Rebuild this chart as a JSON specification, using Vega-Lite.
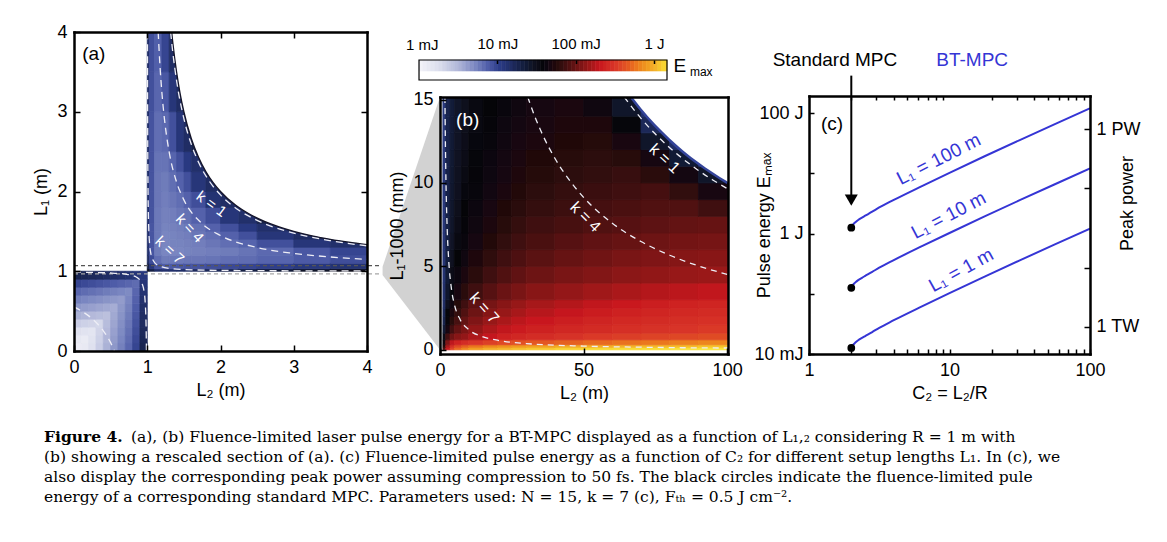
{
"$schema": "https://vega.github.io/schema/vega-lite/v6.json",
"background": "white",
"padding": {"left": 32, "top": 23, "right": 0, "bottom": 0},
"config": {
 "font": "Liberation Sans",
 "view": {"stroke": null},
 "axis": {"grid": false, "labelFontSize": 18, "titleFontSize": 18, "titleFontWeight": "normal", "labelColor": "black", "titleColor": "black", "tickColor": "black", "domainColor": "black", "domainWidth": 2.5, "domainCap": "square", "tickWidth": 1.5, "tickSize": -6, "labelPadding": 13, "zindex": 1, "labelFlush": false, "labelOverlap": false}
},
"datasets": {
"a": [
{"x":0,"x2":0.1,"y":0,"y2":0.1,"v":0.05},{"x":0.1,"x2":0.2,"y":0,"y2":0.1,"v":0.10},{"x":0.2,"x2":0.3,"y":0,"y2":0.1,"v":0.19},{"x":0.3,"x2":0.4,"y":0,"y2":0.1,"v":0.34},{"x":0.4,"x2":0.5,"y":0,"y2":0.1,"v":0.50},{"x":0.5,"x2":0.6,"y":0,"y2":0.1,"v":0.62},{"x":0.6,"x2":0.7,"y":0,"y2":0.1,"v":0.72},{"x":0.7,"x2":0.8,"y":0,"y2":0.1,"v":0.82},{"x":0.8,"x2":0.9,"y":0,"y2":0.1,"v":0.96},{"x":0.9,"x2":1,"y":0,"y2":0.1,"v":1.23},
{"x":0,"x2":0.1,"y":0.1,"y2":0.2,"v":0.10},{"x":0.1,"x2":0.2,"y":0.1,"y2":0.2,"v":0.08},{"x":0.2,"x2":0.3,"y":0.1,"y2":0.2,"v":0.17},{"x":0.3,"x2":0.4,"y":0.1,"y2":0.2,"v":0.32},{"x":0.4,"x2":0.5,"y":0.1,"y2":0.2,"v":0.48},{"x":0.5,"x2":0.6,"y":0.1,"y2":0.2,"v":0.60},{"x":0.6,"x2":0.7,"y":0.1,"y2":0.2,"v":0.70},{"x":0.7,"x2":0.8,"y":0.1,"y2":0.2,"v":0.80},{"x":0.8,"x2":0.9,"y":0.1,"y2":0.2,"v":0.94},{"x":0.9,"x2":1,"y":0.1,"y2":0.2,"v":1.21},
{"x":0,"x2":0.1,"y":0.2,"y2":0.3,"v":0.19},{"x":0.1,"x2":0.2,"y":0.2,"y2":0.3,"v":0.17},{"x":0.2,"x2":0.3,"y":0.2,"y2":0.3,"v":0.15},{"x":0.3,"x2":0.4,"y":0.2,"y2":0.3,"v":0.30},{"x":0.4,"x2":0.5,"y":0.2,"y2":0.3,"v":0.46},{"x":0.5,"x2":0.6,"y":0.2,"y2":0.3,"v":0.58},{"x":0.6,"x2":0.7,"y":0.2,"y2":0.3,"v":0.68},{"x":0.7,"x2":0.8,"y":0.2,"y2":0.3,"v":0.78},{"x":0.8,"x2":0.9,"y":0.2,"y2":0.3,"v":0.92},{"x":0.9,"x2":1,"y":0.2,"y2":0.3,"v":1.19},
{"x":0,"x2":0.1,"y":0.3,"y2":0.4,"v":0.34},{"x":0.1,"x2":0.2,"y":0.3,"y2":0.4,"v":0.32},{"x":0.2,"x2":0.3,"y":0.3,"y2":0.4,"v":0.30},{"x":0.3,"x2":0.4,"y":0.3,"y2":0.4,"v":0.28},{"x":0.4,"x2":0.5,"y":0.3,"y2":0.4,"v":0.44},{"x":0.5,"x2":0.6,"y":0.3,"y2":0.4,"v":0.56},{"x":0.6,"x2":0.7,"y":0.3,"y2":0.4,"v":0.66},{"x":0.7,"x2":0.8,"y":0.3,"y2":0.4,"v":0.76},{"x":0.8,"x2":0.9,"y":0.3,"y2":0.4,"v":0.90},{"x":0.9,"x2":1,"y":0.3,"y2":0.4,"v":1.17},
{"x":0,"x2":0.1,"y":0.4,"y2":0.5,"v":0.50},{"x":0.1,"x2":0.2,"y":0.4,"y2":0.5,"v":0.48},{"x":0.2,"x2":0.3,"y":0.4,"y2":0.5,"v":0.46},{"x":0.3,"x2":0.4,"y":0.4,"y2":0.5,"v":0.44},{"x":0.4,"x2":0.5,"y":0.4,"y2":0.5,"v":0.42},{"x":0.5,"x2":0.6,"y":0.4,"y2":0.5,"v":0.54},{"x":0.6,"x2":0.7,"y":0.4,"y2":0.5,"v":0.64},{"x":0.7,"x2":0.8,"y":0.4,"y2":0.5,"v":0.74},{"x":0.8,"x2":0.9,"y":0.4,"y2":0.5,"v":0.88},{"x":0.9,"x2":1,"y":0.4,"y2":0.5,"v":1.15},
{"x":0,"x2":0.1,"y":0.5,"y2":0.6,"v":0.62},{"x":0.1,"x2":0.2,"y":0.5,"y2":0.6,"v":0.60},{"x":0.2,"x2":0.3,"y":0.5,"y2":0.6,"v":0.58},{"x":0.3,"x2":0.4,"y":0.5,"y2":0.6,"v":0.56},{"x":0.4,"x2":0.5,"y":0.5,"y2":0.6,"v":0.54},{"x":0.5,"x2":0.6,"y":0.5,"y2":0.6,"v":0.52},{"x":0.6,"x2":0.7,"y":0.5,"y2":0.6,"v":0.62},{"x":0.7,"x2":0.8,"y":0.5,"y2":0.6,"v":0.72},{"x":0.8,"x2":0.9,"y":0.5,"y2":0.6,"v":0.86},{"x":0.9,"x2":1,"y":0.5,"y2":0.6,"v":1.13},
{"x":0,"x2":0.1,"y":0.6,"y2":0.7,"v":0.72},{"x":0.1,"x2":0.2,"y":0.6,"y2":0.7,"v":0.70},{"x":0.2,"x2":0.3,"y":0.6,"y2":0.7,"v":0.68},{"x":0.3,"x2":0.4,"y":0.6,"y2":0.7,"v":0.66},{"x":0.4,"x2":0.5,"y":0.6,"y2":0.7,"v":0.64},{"x":0.5,"x2":0.6,"y":0.6,"y2":0.7,"v":0.62},{"x":0.6,"x2":0.7,"y":0.6,"y2":0.7,"v":0.60},{"x":0.7,"x2":0.8,"y":0.6,"y2":0.7,"v":0.70},{"x":0.8,"x2":0.9,"y":0.6,"y2":0.7,"v":0.84},{"x":0.9,"x2":1,"y":0.6,"y2":0.7,"v":1.11},
{"x":0,"x2":0.1,"y":0.7,"y2":0.8,"v":0.82},{"x":0.1,"x2":0.2,"y":0.7,"y2":0.8,"v":0.80},{"x":0.2,"x2":0.3,"y":0.7,"y2":0.8,"v":0.78},{"x":0.3,"x2":0.4,"y":0.7,"y2":0.8,"v":0.76},{"x":0.4,"x2":0.5,"y":0.7,"y2":0.8,"v":0.74},{"x":0.5,"x2":0.6,"y":0.7,"y2":0.8,"v":0.72},{"x":0.6,"x2":0.7,"y":0.7,"y2":0.8,"v":0.70},{"x":0.7,"x2":0.8,"y":0.7,"y2":0.8,"v":0.68},{"x":0.8,"x2":0.9,"y":0.7,"y2":0.8,"v":0.82},{"x":0.9,"x2":1,"y":0.7,"y2":0.8,"v":1.09},
{"x":0,"x2":0.1,"y":0.8,"y2":0.9,"v":0.96},{"x":0.1,"x2":0.2,"y":0.8,"y2":0.9,"v":0.94},{"x":0.2,"x2":0.3,"y":0.8,"y2":0.9,"v":0.92},{"x":0.3,"x2":0.4,"y":0.8,"y2":0.9,"v":0.90},{"x":0.4,"x2":0.5,"y":0.8,"y2":0.9,"v":0.88},{"x":0.5,"x2":0.6,"y":0.8,"y2":0.9,"v":0.86},{"x":0.6,"x2":0.7,"y":0.8,"y2":0.9,"v":0.84},{"x":0.7,"x2":0.8,"y":0.8,"y2":0.9,"v":0.82},{"x":0.8,"x2":0.9,"y":0.8,"y2":0.9,"v":0.80},{"x":0.9,"x2":1,"y":0.8,"y2":0.9,"v":1.07},
{"x":0,"x2":0.1,"y":0.9,"y2":1,"v":1.23},{"x":0.1,"x2":0.2,"y":0.9,"y2":1,"v":1.21},{"x":0.2,"x2":0.3,"y":0.9,"y2":1,"v":1.19},{"x":0.3,"x2":0.4,"y":0.9,"y2":1,"v":1.17},{"x":0.4,"x2":0.5,"y":0.9,"y2":1,"v":1.15},{"x":0.5,"x2":0.6,"y":0.9,"y2":1,"v":1.13},{"x":0.6,"x2":0.7,"y":0.9,"y2":1,"v":1.11},{"x":0.7,"x2":0.8,"y":0.9,"y2":1,"v":1.09},{"x":0.8,"x2":0.9,"y":0.9,"y2":1,"v":1.07},{"x":0.9,"x2":1,"y":0.9,"y2":1,"v":1.05},
{"x":1,"x2":1.03,"y":1,"y2":1.03,"v":1.45},{"x":1,"x2":1.03,"y":1.03,"y2":1.1,"v":1.27},{"x":1,"x2":1.03,"y":1.1,"y2":1.2,"v":1.16},{"x":1,"x2":1.03,"y":1.2,"y2":1.3,"v":1.12},{"x":1,"x2":1.03,"y":1.3,"y2":1.4,"v":1.12},{"x":1,"x2":1.03,"y":1.4,"y2":1.5,"v":1.12},{"x":1,"x2":1.03,"y":1.5,"y2":1.6,"v":1.12},{"x":1,"x2":1.03,"y":1.6,"y2":1.8,"v":1.12},{"x":1,"x2":1.03,"y":1.8,"y2":2,"v":1.12},{"x":1,"x2":1.03,"y":2,"y2":2.25,"v":1.12},{"x":1,"x2":1.03,"y":2.25,"y2":2.5,"v":1.12},{"x":1,"x2":1.03,"y":2.5,"y2":3,"v":1.12},{"x":1,"x2":1.03,"y":3,"y2":3.5,"v":1.12},{"x":1,"x2":1.03,"y":3.5,"y2":4,"v":1.13},
{"x":1.03,"x2":1.1,"y":1,"y2":1.03,"v":1.28},{"x":1.03,"x2":1.1,"y":1.03,"y2":1.1,"v":1.05},{"x":1.03,"x2":1.1,"y":1.1,"y2":1.2,"v":0.93},{"x":1.03,"x2":1.1,"y":1.2,"y2":1.3,"v":0.89},{"x":1.03,"x2":1.1,"y":1.3,"y2":1.4,"v":0.89},{"x":1.03,"x2":1.1,"y":1.4,"y2":1.5,"v":0.89},{"x":1.03,"x2":1.1,"y":1.5,"y2":1.6,"v":0.89},{"x":1.03,"x2":1.1,"y":1.6,"y2":1.8,"v":0.90},{"x":1.03,"x2":1.1,"y":1.8,"y2":2,"v":0.90},{"x":1.03,"x2":1.1,"y":2,"y2":2.25,"v":0.90},{"x":1.03,"x2":1.1,"y":2.25,"y2":2.5,"v":0.90},{"x":1.03,"x2":1.1,"y":2.5,"y2":3,"v":0.90},{"x":1.03,"x2":1.1,"y":3,"y2":3.5,"v":0.91},{"x":1.03,"x2":1.1,"y":3.5,"y2":4,"v":0.92},
{"x":1.1,"x2":1.2,"y":1,"y2":1.03,"v":1.14},{"x":1.1,"x2":1.2,"y":1.03,"y2":1.1,"v":0.90},{"x":1.1,"x2":1.2,"y":1.1,"y2":1.2,"v":0.79},{"x":1.1,"x2":1.2,"y":1.2,"y2":1.3,"v":0.74},{"x":1.1,"x2":1.2,"y":1.3,"y2":1.4,"v":0.75},{"x":1.1,"x2":1.2,"y":1.4,"y2":1.5,"v":0.75},{"x":1.1,"x2":1.2,"y":1.5,"y2":1.6,"v":0.75},{"x":1.1,"x2":1.2,"y":1.6,"y2":1.8,"v":0.75},{"x":1.1,"x2":1.2,"y":1.8,"y2":2,"v":0.76},{"x":1.1,"x2":1.2,"y":2,"y2":2.25,"v":0.76},{"x":1.1,"x2":1.2,"y":2.25,"y2":2.5,"v":0.77},{"x":1.1,"x2":1.2,"y":2.5,"y2":3,"v":0.79},{"x":1.1,"x2":1.2,"y":3,"y2":3.5,"v":0.82},{"x":1.1,"x2":1.2,"y":3.5,"y2":4,"v":0.85},
{"x":1.2,"x2":1.3,"y":1,"y2":1.03,"v":1.11},{"x":1.2,"x2":1.3,"y":1.03,"y2":1.1,"v":0.86},{"x":1.2,"x2":1.3,"y":1.1,"y2":1.2,"v":0.74},{"x":1.2,"x2":1.3,"y":1.2,"y2":1.3,"v":0.70},{"x":1.2,"x2":1.3,"y":1.3,"y2":1.4,"v":0.70},{"x":1.2,"x2":1.3,"y":1.4,"y2":1.5,"v":0.70},{"x":1.2,"x2":1.3,"y":1.5,"y2":1.6,"v":0.71},{"x":1.2,"x2":1.3,"y":1.6,"y2":1.8,"v":0.72},{"x":1.2,"x2":1.3,"y":1.8,"y2":2,"v":0.73},{"x":1.2,"x2":1.3,"y":2,"y2":2.25,"v":0.74},{"x":1.2,"x2":1.3,"y":2.25,"y2":2.5,"v":0.77},{"x":1.2,"x2":1.3,"y":2.5,"y2":3,"v":0.81},{"x":1.2,"x2":1.3,"y":3,"y2":3.5,"v":0.88},{"x":1.2,"x2":1.3,"y":3.5,"y2":4,"v":0.96},
{"x":1.3,"x2":1.4,"y":1,"y2":1.03,"v":1.12},{"x":1.3,"x2":1.4,"y":1.03,"y2":1.1,"v":0.87},{"x":1.3,"x2":1.4,"y":1.1,"y2":1.2,"v":0.75},{"x":1.3,"x2":1.4,"y":1.2,"y2":1.3,"v":0.70},{"x":1.3,"x2":1.4,"y":1.3,"y2":1.4,"v":0.71},{"x":1.3,"x2":1.4,"y":1.4,"y2":1.5,"v":0.71},{"x":1.3,"x2":1.4,"y":1.5,"y2":1.6,"v":0.72},{"x":1.3,"x2":1.4,"y":1.6,"y2":1.8,"v":0.73},{"x":1.3,"x2":1.4,"y":1.8,"y2":2,"v":0.76},{"x":1.3,"x2":1.4,"y":2,"y2":2.25,"v":0.79},{"x":1.3,"x2":1.4,"y":2.25,"y2":2.5,"v":0.83},{"x":1.3,"x2":1.4,"y":2.5,"y2":3,"v":0.91},{"x":1.3,"x2":1.4,"y":3,"y2":3.5,"v":1.06},{"x":1.3,"x2":1.4,"y":3.5,"y2":4,"v":1.15},
{"x":1.4,"x2":1.5,"y":1,"y2":1.03,"v":1.14},{"x":1.4,"x2":1.5,"y":1.03,"y2":1.1,"v":0.88},{"x":1.4,"x2":1.5,"y":1.1,"y2":1.2,"v":0.75},{"x":1.4,"x2":1.5,"y":1.2,"y2":1.3,"v":0.70},{"x":1.4,"x2":1.5,"y":1.3,"y2":1.4,"v":0.71},{"x":1.4,"x2":1.5,"y":1.4,"y2":1.5,"v":0.72},{"x":1.4,"x2":1.5,"y":1.5,"y2":1.6,"v":0.73},{"x":1.4,"x2":1.5,"y":1.6,"y2":1.8,"v":0.76},{"x":1.4,"x2":1.5,"y":1.8,"y2":2,"v":0.79},{"x":1.4,"x2":1.5,"y":2,"y2":2.25,"v":0.84},{"x":1.4,"x2":1.5,"y":2.25,"y2":2.5,"v":0.91},{"x":1.4,"x2":1.5,"y":2.5,"y2":3,"v":1.06},{"x":1.4,"x2":1.5,"y":3,"y2":3.5,"v":1.15},
{"x":1.5,"x2":1.6,"y":1,"y2":1.03,"v":1.15},{"x":1.5,"x2":1.6,"y":1.03,"y2":1.1,"v":0.89},{"x":1.5,"x2":1.6,"y":1.1,"y2":1.2,"v":0.76},{"x":1.5,"x2":1.6,"y":1.2,"y2":1.3,"v":0.71},{"x":1.5,"x2":1.6,"y":1.3,"y2":1.4,"v":0.72},{"x":1.5,"x2":1.6,"y":1.4,"y2":1.5,"v":0.73},{"x":1.5,"x2":1.6,"y":1.5,"y2":1.6,"v":0.75},{"x":1.5,"x2":1.6,"y":1.6,"y2":1.8,"v":0.78},{"x":1.5,"x2":1.6,"y":1.8,"y2":2,"v":0.84},{"x":1.5,"x2":1.6,"y":2,"y2":2.25,"v":0.91},{"x":1.5,"x2":1.6,"y":2.25,"y2":2.5,"v":1.03},{"x":1.5,"x2":1.6,"y":2.5,"y2":3,"v":1.15},
{"x":1.6,"x2":1.8,"y":1,"y2":1.03,"v":1.18},{"x":1.6,"x2":1.8,"y":1.03,"y2":1.1,"v":0.90},{"x":1.6,"x2":1.8,"y":1.1,"y2":1.2,"v":0.76},{"x":1.6,"x2":1.8,"y":1.2,"y2":1.3,"v":0.72},{"x":1.6,"x2":1.8,"y":1.3,"y2":1.4,"v":0.73},{"x":1.6,"x2":1.8,"y":1.4,"y2":1.5,"v":0.76},{"x":1.6,"x2":1.8,"y":1.5,"y2":1.6,"v":0.78},{"x":1.6,"x2":1.8,"y":1.6,"y2":1.8,"v":0.84},{"x":1.6,"x2":1.8,"y":1.8,"y2":2,"v":0.92},{"x":1.6,"x2":1.8,"y":2,"y2":2.25,"v":1.06},{"x":1.6,"x2":1.8,"y":2.25,"y2":2.5,"v":1.12},{"x":1.6,"x2":1.8,"y":2.5,"y2":3,"v":1.25},
{"x":1.8,"x2":2,"y":1,"y2":1.03,"v":1.21},{"x":1.8,"x2":2,"y":1.03,"y2":1.1,"v":0.92},{"x":1.8,"x2":2,"y":1.1,"y2":1.2,"v":0.77},{"x":1.8,"x2":2,"y":1.2,"y2":1.3,"v":0.73},{"x":1.8,"x2":2,"y":1.3,"y2":1.4,"v":0.76},{"x":1.8,"x2":2,"y":1.4,"y2":1.5,"v":0.79},{"x":1.8,"x2":2,"y":1.5,"y2":1.6,"v":0.84},{"x":1.8,"x2":2,"y":1.6,"y2":1.8,"v":0.92},{"x":1.8,"x2":2,"y":1.8,"y2":2,"v":1.09},{"x":1.8,"x2":2,"y":2,"y2":2.25,"v":1.15},
{"x":2,"x2":2.25,"y":1,"y2":1.03,"v":1.24},{"x":2,"x2":2.25,"y":1.03,"y2":1.1,"v":0.94},{"x":2,"x2":2.25,"y":1.1,"y2":1.2,"v":0.79},{"x":2,"x2":2.25,"y":1.2,"y2":1.3,"v":0.74},{"x":2,"x2":2.25,"y":1.3,"y2":1.4,"v":0.79},{"x":2,"x2":2.25,"y":1.4,"y2":1.5,"v":0.84},{"x":2,"x2":2.25,"y":1.5,"y2":1.6,"v":0.91},{"x":2,"x2":2.25,"y":1.6,"y2":1.8,"v":1.06},{"x":2,"x2":2.25,"y":1.8,"y2":2,"v":1.15},
{"x":2.25,"x2":2.5,"y":1,"y2":1.03,"v":1.28},{"x":2.25,"x2":2.5,"y":1.03,"y2":1.1,"v":0.96},{"x":2.25,"x2":2.5,"y":1.1,"y2":1.2,"v":0.80},{"x":2.25,"x2":2.5,"y":1.2,"y2":1.3,"v":0.77},{"x":2.25,"x2":2.5,"y":1.3,"y2":1.4,"v":0.83},{"x":2.25,"x2":2.5,"y":1.4,"y2":1.5,"v":0.91},{"x":2.25,"x2":2.5,"y":1.5,"y2":1.6,"v":1.03},{"x":2.25,"x2":2.5,"y":1.6,"y2":1.8,"v":1.12},
{"x":2.5,"x2":3,"y":1,"y2":1.03,"v":1.34},{"x":2.5,"x2":3,"y":1.03,"y2":1.1,"v":0.99},{"x":2.5,"x2":3,"y":1.1,"y2":1.2,"v":0.83},{"x":2.5,"x2":3,"y":1.2,"y2":1.3,"v":0.81},{"x":2.5,"x2":3,"y":1.3,"y2":1.4,"v":0.91},{"x":2.5,"x2":3,"y":1.4,"y2":1.5,"v":1.06},{"x":2.5,"x2":3,"y":1.5,"y2":1.6,"v":1.12},{"x":2.5,"x2":3,"y":1.6,"y2":1.8,"v":1.25},
{"x":3,"x2":3.5,"y":1,"y2":1.03,"v":1.41},{"x":3,"x2":3.5,"y":1.03,"y2":1.1,"v":1.04},{"x":3,"x2":3.5,"y":1.1,"y2":1.2,"v":0.87},{"x":3,"x2":3.5,"y":1.2,"y2":1.3,"v":0.88},{"x":3,"x2":3.5,"y":1.3,"y2":1.4,"v":1.06},{"x":3,"x2":3.5,"y":1.4,"y2":1.5,"v":1.15},
{"x":3.5,"x2":4,"y":1,"y2":1.03,"v":1.49},{"x":3.5,"x2":4,"y":1.03,"y2":1.1,"v":1.09},{"x":3.5,"x2":4,"y":1.1,"y2":1.2,"v":0.92},{"x":3.5,"x2":4,"y":1.2,"y2":1.3,"v":0.96},{"x":3.5,"x2":4,"y":1.3,"y2":1.4,"v":1.12}
],
"acont": [
{"seg":"k1a","x":1.319,"y":4.0},{"seg":"k1a","x":1.35,"y":3.734},{"seg":"k1a","x":1.4,"y":3.392},{"seg":"k1a","x":1.5,"y":2.914},{"seg":"k1a","x":1.6,"y":2.595},{"seg":"k1a","x":1.7,"y":2.367},{"seg":"k1a","x":1.85,"y":2.126},{"seg":"k1a","x":2,"y":1.957},{"seg":"k1a","x":2.25,"y":1.765},{"seg":"k1a","x":2.5,"y":1.638},{"seg":"k1a","x":3,"y":1.478},{"seg":"k1a","x":3.5,"y":1.383},{"seg":"k1a","x":4,"y":1.319},
{"seg":"k4a","x":1.149,"y":4.0},{"seg":"k4a","x":1.175,"y":3.558},{"seg":"k4a","x":1.2,"y":3.239},{"seg":"k4a","x":1.25,"y":2.791},{"seg":"k4a","x":1.3,"y":2.492},{"seg":"k4a","x":1.4,"y":2.119},{"seg":"k4a","x":1.5,"y":1.895},{"seg":"k4a","x":1.75,"y":1.597},{"seg":"k4a","x":2,"y":1.448},{"seg":"k4a","x":2.5,"y":1.298},{"seg":"k4a","x":3,"y":1.224},{"seg":"k4a","x":3.5,"y":1.179},{"seg":"k4a","x":4,"y":1.149},
{"seg":"k7a","x":1.00364,"y":4.0},{"seg":"k7a","x":1.005,"y":3.184},{"seg":"k7a","x":1.0075,"y":2.456},{"seg":"k7a","x":1.01,"y":2.092},{"seg":"k7a","x":1.015,"y":1.728},{"seg":"k7a","x":1.02,"y":1.546},{"seg":"k7a","x":1.03,"y":1.364},{"seg":"k7a","x":1.05,"y":1.218},{"seg":"k7a","x":1.075,"y":1.146},{"seg":"k7a","x":1.1,"y":1.109},{"seg":"k7a","x":1.15,"y":1.073},{"seg":"k7a","x":1.2,"y":1.055},{"seg":"k7a","x":1.3,"y":1.036},{"seg":"k7a","x":1.5,"y":1.022},{"seg":"k7a","x":2,"y":1.011},{"seg":"k7a","x":3,"y":1.0055},{"seg":"k7a","x":4,"y":1.0036},
{"seg":"k4b","x":0,"y":0.5523},{"seg":"k4b","x":0.1,"y":0.5026},{"seg":"k4b","x":0.2,"y":0.4404},{"seg":"k4b","x":0.3,"y":0.3604},{"seg":"k4b","x":0.4,"y":0.2538},{"seg":"k4b","x":0.45,"y":0.186},{"seg":"k4b","x":0.5,"y":0.1046},{"seg":"k4b","x":0.5523,"y":0},
{"seg":"k7b","x":0,"y":0.9891},{"seg":"k7b","x":0.5,"y":0.9782},{"seg":"k7b","x":0.7,"y":0.9636},{"seg":"k7b","x":0.8,"y":0.9454},{"seg":"k7b","x":0.85,"y":0.9272},{"seg":"k7b","x":0.9,"y":0.8908},{"seg":"k7b","x":0.93,"y":0.844},{"seg":"k7b","x":0.95,"y":0.7816},{"seg":"k7b","x":0.97,"y":0.636},{"seg":"k7b","x":0.98,"y":0.454},{"seg":"k7b","x":0.985,"y":0.272},{"seg":"k7b","x":0.9891,"y":0},
{"seg":"k1b","x":0,"y":0.0432},{"seg":"k1b","x":0.02,"y":0.0237},{"seg":"k1b","x":0.0432,"y":0}
],
"abound": [
{"x":1.3333,"y":4.0},{"x":1.35,"y":3.857},{"x":1.4,"y":3.5},{"x":1.45,"y":3.222},{"x":1.5,"y":3.0},{"x":1.6,"y":2.667},{"x":1.7,"y":2.429},{"x":1.8,"y":2.25},{"x":1.9,"y":2.111},{"x":2,"y":2.0},{"x":2.2,"y":1.833},{"x":2.4,"y":1.714},{"x":2.6,"y":1.625},{"x":2.8,"y":1.556},{"x":3,"y":1.5},{"x":3.25,"y":1.444},{"x":3.5,"y":1.4},{"x":3.75,"y":1.364},{"x":4,"y":1.333}
],
"b": [
{"x":1,"x2":2,"y":0,"y2":0.15,"v":1.90},{"x":2,"x2":3.5,"y":0,"y2":0.15,"v":2.30},{"x":3.5,"x2":5,"y":0,"y2":0.15,"v":2.55},{"x":5,"x2":7.5,"y":0,"y2":0.15,"v":2.70},{"x":7.5,"x2":10,"y":0,"y2":0.15,"v":2.80},{"x":10,"x2":15,"y":0,"y2":0.15,"v":2.90},{"x":15,"x2":20,"y":0,"y2":0.15,"v":2.97},{"x":20,"x2":25,"y":0,"y2":0.15,"v":3.00},{"x":25,"x2":30,"y":0,"y2":0.15,"v":3.03},{"x":30,"x2":40,"y":0,"y2":0.15,"v":3.06},{"x":40,"x2":50,"y":0,"y2":0.15,"v":3.09},{"x":50,"x2":60,"y":0,"y2":0.15,"v":3.11},{"x":60,"x2":70,"y":0,"y2":0.15,"v":3.12},{"x":70,"x2":80,"y":0,"y2":0.15,"v":3.13},{"x":80,"x2":90,"y":0,"y2":0.15,"v":3.14},{"x":90,"x2":100.3,"y":0,"y2":0.15,"v":3.15},
{"x":1,"x2":2,"y":0.15,"y2":0.3,"v":1.75},{"x":2,"x2":3.5,"y":0.15,"y2":0.3,"v":2.20},{"x":3.5,"x2":5,"y":0.15,"y2":0.3,"v":2.45},{"x":5,"x2":7.5,"y":0.15,"y2":0.3,"v":2.58},{"x":7.5,"x2":10,"y":0.15,"y2":0.3,"v":2.67},{"x":10,"x2":15,"y":0.15,"y2":0.3,"v":2.75},{"x":15,"x2":20,"y":0.15,"y2":0.3,"v":2.82},{"x":20,"x2":25,"y":0.15,"y2":0.3,"v":2.86},{"x":25,"x2":30,"y":0.15,"y2":0.3,"v":2.89},{"x":30,"x2":40,"y":0.15,"y2":0.3,"v":2.92},{"x":40,"x2":50,"y":0.15,"y2":0.3,"v":2.96},{"x":50,"x2":60,"y":0.15,"y2":0.3,"v":2.98},{"x":60,"x2":70,"y":0.15,"y2":0.3,"v":3.00},{"x":70,"x2":80,"y":0.15,"y2":0.3,"v":3.02},{"x":80,"x2":90,"y":0.15,"y2":0.3,"v":3.03},{"x":90,"x2":100.3,"y":0.15,"y2":0.3,"v":3.05},
{"x":1,"x2":2,"y":0.3,"y2":0.6,"v":1.62},{"x":2,"x2":3.5,"y":0.3,"y2":0.6,"v":2.05},{"x":3.5,"x2":5,"y":0.3,"y2":0.6,"v":2.25},{"x":5,"x2":7.5,"y":0.3,"y2":0.6,"v":2.35},{"x":7.5,"x2":10,"y":0.3,"y2":0.6,"v":2.42},{"x":10,"x2":15,"y":0.3,"y2":0.6,"v":2.48},{"x":15,"x2":20,"y":0.3,"y2":0.6,"v":2.53},{"x":20,"x2":25,"y":0.3,"y2":0.6,"v":2.57},{"x":25,"x2":30,"y":0.3,"y2":0.6,"v":2.60},{"x":30,"x2":40,"y":0.3,"y2":0.6,"v":2.63},{"x":40,"x2":50,"y":0.3,"y2":0.6,"v":2.67},{"x":50,"x2":60,"y":0.3,"y2":0.6,"v":2.70},{"x":60,"x2":70,"y":0.3,"y2":0.6,"v":2.73},{"x":70,"x2":80,"y":0.3,"y2":0.6,"v":2.75},{"x":80,"x2":90,"y":0.3,"y2":0.6,"v":2.78},{"x":90,"x2":100.3,"y":0.3,"y2":0.6,"v":2.80},
{"x":1,"x2":2,"y":0.6,"y2":1,"v":1.50},{"x":2,"x2":3.5,"y":0.6,"y2":1,"v":1.85},{"x":3.5,"x2":5,"y":0.6,"y2":1,"v":2.00},{"x":5,"x2":7.5,"y":0.6,"y2":1,"v":2.08},{"x":7.5,"x2":10,"y":0.6,"y2":1,"v":2.12},{"x":10,"x2":15,"y":0.6,"y2":1,"v":2.20},{"x":15,"x2":20,"y":0.6,"y2":1,"v":2.27},{"x":20,"x2":25,"y":0.6,"y2":1,"v":2.34},{"x":25,"x2":30,"y":0.6,"y2":1,"v":2.38},{"x":30,"x2":40,"y":0.6,"y2":1,"v":2.42},{"x":40,"x2":50,"y":0.6,"y2":1,"v":2.46},{"x":50,"x2":60,"y":0.6,"y2":1,"v":2.50},{"x":60,"x2":70,"y":0.6,"y2":1,"v":2.52},{"x":70,"x2":80,"y":0.6,"y2":1,"v":2.54},{"x":80,"x2":90,"y":0.6,"y2":1,"v":2.56},{"x":90,"x2":100.3,"y":0.6,"y2":1,"v":2.58},
{"x":1,"x2":2,"y":1,"y2":1.5,"v":1.35},{"x":2,"x2":3.5,"y":1,"y2":1.5,"v":1.65},{"x":3.5,"x2":5,"y":1,"y2":1.5,"v":1.85},{"x":5,"x2":7.5,"y":1,"y2":1.5,"v":1.96},{"x":7.5,"x2":10,"y":1,"y2":1.5,"v":2.04},{"x":10,"x2":15,"y":1,"y2":1.5,"v":2.12},{"x":15,"x2":20,"y":1,"y2":1.5,"v":2.20},{"x":20,"x2":25,"y":1,"y2":1.5,"v":2.26},{"x":25,"x2":30,"y":1,"y2":1.5,"v":2.30},{"x":30,"x2":40,"y":1,"y2":1.5,"v":2.34},{"x":40,"x2":50,"y":1,"y2":1.5,"v":2.38},{"x":50,"x2":60,"y":1,"y2":1.5,"v":2.41},{"x":60,"x2":70,"y":1,"y2":1.5,"v":2.44},{"x":70,"x2":80,"y":1,"y2":1.5,"v":2.46},{"x":80,"x2":90,"y":1,"y2":1.5,"v":2.48},{"x":90,"x2":100.3,"y":1,"y2":1.5,"v":2.50},
{"x":1,"x2":2,"y":1.5,"y2":2,"v":1.25},{"x":2,"x2":3.5,"y":1.5,"y2":2,"v":1.58},{"x":3.5,"x2":5,"y":1.5,"y2":2,"v":1.75},{"x":5,"x2":7.5,"y":1.5,"y2":2,"v":1.87},{"x":7.5,"x2":10,"y":1.5,"y2":2,"v":1.96},{"x":10,"x2":15,"y":1.5,"y2":2,"v":2.05},{"x":15,"x2":20,"y":1.5,"y2":2,"v":2.13},{"x":20,"x2":25,"y":1.5,"y2":2,"v":2.19},{"x":25,"x2":30,"y":1.5,"y2":2,"v":2.24},{"x":30,"x2":40,"y":1.5,"y2":2,"v":2.28},{"x":40,"x2":50,"y":1.5,"y2":2,"v":2.32},{"x":50,"x2":60,"y":1.5,"y2":2,"v":2.36},{"x":60,"x2":70,"y":1.5,"y2":2,"v":2.39},{"x":70,"x2":80,"y":1.5,"y2":2,"v":2.41},{"x":80,"x2":90,"y":1.5,"y2":2,"v":2.43},{"x":90,"x2":100.3,"y":1.5,"y2":2,"v":2.45},
{"x":1,"x2":2,"y":2,"y2":2.5,"v":1.20},{"x":2,"x2":3.5,"y":2,"y2":2.5,"v":1.55},{"x":3.5,"x2":5,"y":2,"y2":2.5,"v":1.68},{"x":5,"x2":7.5,"y":2,"y2":2.5,"v":1.80},{"x":7.5,"x2":10,"y":2,"y2":2.5,"v":1.90},{"x":10,"x2":15,"y":2,"y2":2.5,"v":1.99},{"x":15,"x2":20,"y":2,"y2":2.5,"v":2.07},{"x":20,"x2":25,"y":2,"y2":2.5,"v":2.13},{"x":25,"x2":30,"y":2,"y2":2.5,"v":2.18},{"x":30,"x2":40,"y":2,"y2":2.5,"v":2.23},{"x":40,"x2":50,"y":2,"y2":2.5,"v":2.27},{"x":50,"x2":60,"y":2,"y2":2.5,"v":2.31},{"x":60,"x2":70,"y":2,"y2":2.5,"v":2.34},{"x":70,"x2":80,"y":2,"y2":2.5,"v":2.37},{"x":80,"x2":90,"y":2,"y2":2.5,"v":2.39},{"x":90,"x2":100.3,"y":2,"y2":2.5,"v":2.41},
{"x":1,"x2":2,"y":2.5,"y2":3,"v":1.15},{"x":2,"x2":3.5,"y":2.5,"y2":3,"v":1.45},{"x":3.5,"x2":5,"y":2.5,"y2":3,"v":1.62},{"x":5,"x2":7.5,"y":2.5,"y2":3,"v":1.74},{"x":7.5,"x2":10,"y":2.5,"y2":3,"v":1.84},{"x":10,"x2":15,"y":2.5,"y2":3,"v":1.94},{"x":15,"x2":20,"y":2.5,"y2":3,"v":2.02},{"x":20,"x2":25,"y":2.5,"y2":3,"v":2.08},{"x":25,"x2":30,"y":2.5,"y2":3,"v":2.13},{"x":30,"x2":40,"y":2.5,"y2":3,"v":2.18},{"x":40,"x2":50,"y":2.5,"y2":3,"v":2.22},{"x":50,"x2":60,"y":2.5,"y2":3,"v":2.26},{"x":60,"x2":70,"y":2.5,"y2":3,"v":2.29},{"x":70,"x2":80,"y":2.5,"y2":3,"v":2.32},{"x":80,"x2":90,"y":2.5,"y2":3,"v":2.35},{"x":90,"x2":100.3,"y":2.5,"y2":3,"v":2.37},
{"x":1,"x2":2,"y":3,"y2":4,"v":1.12},{"x":2,"x2":3.5,"y":3,"y2":4,"v":1.38},{"x":3.5,"x2":5,"y":3,"y2":4,"v":1.54},{"x":5,"x2":7.5,"y":3,"y2":4,"v":1.66},{"x":7.5,"x2":10,"y":3,"y2":4,"v":1.76},{"x":10,"x2":15,"y":3,"y2":4,"v":1.84},{"x":15,"x2":20,"y":3,"y2":4,"v":1.92},{"x":20,"x2":25,"y":3,"y2":4,"v":1.98},{"x":25,"x2":30,"y":3,"y2":4,"v":2.03},{"x":30,"x2":40,"y":3,"y2":4,"v":2.08},{"x":40,"x2":50,"y":3,"y2":4,"v":2.12},{"x":50,"x2":60,"y":3,"y2":4,"v":2.16},{"x":60,"x2":70,"y":3,"y2":4,"v":2.19},{"x":70,"x2":80,"y":3,"y2":4,"v":2.22},{"x":80,"x2":90,"y":3,"y2":4,"v":2.24},{"x":90,"x2":100.3,"y":3,"y2":4,"v":2.26},
{"x":1,"x2":2,"y":4,"y2":5,"v":1.10},{"x":2,"x2":3.5,"y":4,"y2":5,"v":1.33},{"x":3.5,"x2":5,"y":4,"y2":5,"v":1.50},{"x":5,"x2":7.5,"y":4,"y2":5,"v":1.60},{"x":7.5,"x2":10,"y":4,"y2":5,"v":1.68},{"x":10,"x2":15,"y":4,"y2":5,"v":1.76},{"x":15,"x2":20,"y":4,"y2":5,"v":1.84},{"x":20,"x2":25,"y":4,"y2":5,"v":1.90},{"x":25,"x2":30,"y":4,"y2":5,"v":1.95},{"x":30,"x2":40,"y":4,"y2":5,"v":1.99},{"x":40,"x2":50,"y":4,"y2":5,"v":2.03},{"x":50,"x2":60,"y":4,"y2":5,"v":2.06},{"x":60,"x2":70,"y":4,"y2":5,"v":2.09},{"x":70,"x2":80,"y":4,"y2":5,"v":2.11},{"x":80,"x2":90,"y":4,"y2":5,"v":2.13},{"x":90,"x2":100.3,"y":4,"y2":5,"v":2.14},
{"x":1,"x2":2,"y":5,"y2":6,"v":1.08},{"x":2,"x2":3.5,"y":5,"y2":6,"v":1.30},{"x":3.5,"x2":5,"y":5,"y2":6,"v":1.45},{"x":5,"x2":7.5,"y":5,"y2":6,"v":1.56},{"x":7.5,"x2":10,"y":5,"y2":6,"v":1.62},{"x":10,"x2":15,"y":5,"y2":6,"v":1.70},{"x":15,"x2":20,"y":5,"y2":6,"v":1.78},{"x":20,"x2":25,"y":5,"y2":6,"v":1.84},{"x":25,"x2":30,"y":5,"y2":6,"v":1.89},{"x":30,"x2":40,"y":5,"y2":6,"v":1.93},{"x":40,"x2":50,"y":5,"y2":6,"v":1.97},{"x":50,"x2":60,"y":5,"y2":6,"v":2.00},{"x":60,"x2":70,"y":5,"y2":6,"v":2.03},{"x":70,"x2":80,"y":5,"y2":6,"v":2.05},{"x":80,"x2":90,"y":5,"y2":6,"v":2.07},{"x":90,"x2":100.3,"y":5,"y2":6,"v":2.08},
{"x":1,"x2":2,"y":6,"y2":7,"v":1.07},{"x":2,"x2":3.5,"y":6,"y2":7,"v":1.28},{"x":3.5,"x2":5,"y":6,"y2":7,"v":1.42},{"x":5,"x2":7.5,"y":6,"y2":7,"v":1.53},{"x":7.5,"x2":10,"y":6,"y2":7,"v":1.59},{"x":10,"x2":15,"y":6,"y2":7,"v":1.65},{"x":15,"x2":20,"y":6,"y2":7,"v":1.73},{"x":20,"x2":25,"y":6,"y2":7,"v":1.79},{"x":25,"x2":30,"y":6,"y2":7,"v":1.84},{"x":30,"x2":40,"y":6,"y2":7,"v":1.88},{"x":40,"x2":50,"y":6,"y2":7,"v":1.92},{"x":50,"x2":60,"y":6,"y2":7,"v":1.95},{"x":60,"x2":70,"y":6,"y2":7,"v":1.97},{"x":70,"x2":80,"y":6,"y2":7,"v":1.99},{"x":80,"x2":90,"y":6,"y2":7,"v":2.01},{"x":90,"x2":100.3,"y":6,"y2":7,"v":2.02},
{"x":1,"x2":2,"y":7,"y2":8,"v":1.06},{"x":2,"x2":3.5,"y":7,"y2":8,"v":1.27},{"x":3.5,"x2":5,"y":7,"y2":8,"v":1.40},{"x":5,"x2":7.5,"y":7,"y2":8,"v":1.50},{"x":7.5,"x2":10,"y":7,"y2":8,"v":1.57},{"x":10,"x2":15,"y":7,"y2":8,"v":1.62},{"x":15,"x2":20,"y":7,"y2":8,"v":1.69},{"x":20,"x2":25,"y":7,"y2":8,"v":1.75},{"x":25,"x2":30,"y":7,"y2":8,"v":1.80},{"x":30,"x2":40,"y":7,"y2":8,"v":1.84},{"x":40,"x2":50,"y":7,"y2":8,"v":1.87},{"x":50,"x2":60,"y":7,"y2":8,"v":1.90},{"x":60,"x2":70,"y":7,"y2":8,"v":1.92},{"x":70,"x2":80,"y":7,"y2":8,"v":1.94},{"x":80,"x2":90,"y":7,"y2":8,"v":1.96},{"x":90,"x2":100.3,"y":7,"y2":8,"v":1.97},
{"x":1,"x2":2,"y":8,"y2":9,"v":1.05},{"x":2,"x2":3.5,"y":8,"y2":9,"v":1.27},{"x":3.5,"x2":5,"y":8,"y2":9,"v":1.39},{"x":5,"x2":7.5,"y":8,"y2":9,"v":1.48},{"x":7.5,"x2":10,"y":8,"y2":9,"v":1.56},{"x":10,"x2":15,"y":8,"y2":9,"v":1.60},{"x":15,"x2":20,"y":8,"y2":9,"v":1.66},{"x":20,"x2":25,"y":8,"y2":9,"v":1.72},{"x":25,"x2":30,"y":8,"y2":9,"v":1.76},{"x":30,"x2":40,"y":8,"y2":9,"v":1.80},{"x":40,"x2":50,"y":8,"y2":9,"v":1.83},{"x":50,"x2":60,"y":8,"y2":9,"v":1.86},{"x":60,"x2":70,"y":8,"y2":9,"v":1.88},{"x":70,"x2":80,"y":8,"y2":9,"v":1.90},{"x":80,"x2":90,"y":8,"y2":9,"v":1.90},{"x":90,"x2":100.3,"y":8,"y2":9,"v":1.84},
{"x":1,"x2":2,"y":9,"y2":10,"v":1.05},{"x":2,"x2":3.5,"y":9,"y2":10,"v":1.26},{"x":3.5,"x2":5,"y":9,"y2":10,"v":1.38},{"x":5,"x2":7.5,"y":9,"y2":10,"v":1.46},{"x":7.5,"x2":10,"y":9,"y2":10,"v":1.54},{"x":10,"x2":15,"y":9,"y2":10,"v":1.58},{"x":15,"x2":20,"y":9,"y2":10,"v":1.63},{"x":20,"x2":25,"y":9,"y2":10,"v":1.68},{"x":25,"x2":30,"y":9,"y2":10,"v":1.73},{"x":30,"x2":40,"y":9,"y2":10,"v":1.77},{"x":40,"x2":50,"y":9,"y2":10,"v":1.80},{"x":50,"x2":60,"y":9,"y2":10,"v":1.82},{"x":60,"x2":70,"y":9,"y2":10,"v":1.84},{"x":70,"x2":80,"y":9,"y2":10,"v":1.86},{"x":80,"x2":90,"y":9,"y2":10,"v":1.79},{"x":90,"x2":100.3,"y":9,"y2":10,"v":1.66},
{"x":1,"x2":2,"y":10,"y2":11,"v":1.05},{"x":2,"x2":3.5,"y":10,"y2":11,"v":1.26},{"x":3.5,"x2":5,"y":10,"y2":11,"v":1.37},{"x":5,"x2":7.5,"y":10,"y2":11,"v":1.45},{"x":7.5,"x2":10,"y":10,"y2":11,"v":1.52},{"x":10,"x2":15,"y":10,"y2":11,"v":1.57},{"x":15,"x2":20,"y":10,"y2":11,"v":1.61},{"x":20,"x2":25,"y":10,"y2":11,"v":1.65},{"x":25,"x2":30,"y":10,"y2":11,"v":1.70},{"x":30,"x2":40,"y":10,"y2":11,"v":1.74},{"x":40,"x2":50,"y":10,"y2":11,"v":1.77},{"x":50,"x2":60,"y":10,"y2":11,"v":1.79},{"x":60,"x2":70,"y":10,"y2":11,"v":1.81},{"x":70,"x2":80,"y":10,"y2":11,"v":1.76},{"x":80,"x2":90,"y":10,"y2":11,"v":1.64},{"x":90,"x2":100.3,"y":10,"y2":11,"v":1.40},
{"x":1,"x2":2,"y":11,"y2":12,"v":1.05},{"x":2,"x2":3.5,"y":11,"y2":12,"v":1.25},{"x":3.5,"x2":5,"y":11,"y2":12,"v":1.36},{"x":5,"x2":7.5,"y":11,"y2":12,"v":1.44},{"x":7.5,"x2":10,"y":11,"y2":12,"v":1.50},{"x":10,"x2":15,"y":11,"y2":12,"v":1.55},{"x":15,"x2":20,"y":11,"y2":12,"v":1.60},{"x":20,"x2":25,"y":11,"y2":12,"v":1.64},{"x":25,"x2":30,"y":11,"y2":12,"v":1.68},{"x":30,"x2":40,"y":11,"y2":12,"v":1.72},{"x":40,"x2":50,"y":11,"y2":12,"v":1.75},{"x":50,"x2":60,"y":11,"y2":12,"v":1.77},{"x":60,"x2":70,"y":11,"y2":12,"v":1.75},{"x":70,"x2":80,"y":11,"y2":12,"v":1.65},{"x":80,"x2":90,"y":11,"y2":12,"v":1.35},{"x":90,"x2":100.3,"y":11,"y2":12,"v":1.10},
{"x":1,"x2":2,"y":12,"y2":13,"v":1.05},{"x":2,"x2":3.5,"y":12,"y2":13,"v":1.25},{"x":3.5,"x2":5,"y":12,"y2":13,"v":1.35},{"x":5,"x2":7.5,"y":12,"y2":13,"v":1.43},{"x":7.5,"x2":10,"y":12,"y2":13,"v":1.49},{"x":10,"x2":15,"y":12,"y2":13,"v":1.54},{"x":15,"x2":20,"y":12,"y2":13,"v":1.58},{"x":20,"x2":25,"y":12,"y2":13,"v":1.62},{"x":25,"x2":30,"y":12,"y2":13,"v":1.66},{"x":30,"x2":40,"y":12,"y2":13,"v":1.69},{"x":40,"x2":50,"y":12,"y2":13,"v":1.72},{"x":50,"x2":60,"y":12,"y2":13,"v":1.74},{"x":60,"x2":70,"y":12,"y2":13,"v":1.67},{"x":70,"x2":80,"y":12,"y2":13,"v":1.40},{"x":80,"x2":90,"y":12,"y2":13,"v":1.15},
{"x":1,"x2":2,"y":13,"y2":14,"v":1.05},{"x":2,"x2":3.5,"y":13,"y2":14,"v":1.25},{"x":3.5,"x2":5,"y":13,"y2":14,"v":1.34},{"x":5,"x2":7.5,"y":13,"y2":14,"v":1.42},{"x":7.5,"x2":10,"y":13,"y2":14,"v":1.48},{"x":10,"x2":15,"y":13,"y2":14,"v":1.53},{"x":15,"x2":20,"y":13,"y2":14,"v":1.57},{"x":20,"x2":25,"y":13,"y2":14,"v":1.61},{"x":25,"x2":30,"y":13,"y2":14,"v":1.64},{"x":30,"x2":40,"y":13,"y2":14,"v":1.67},{"x":40,"x2":50,"y":13,"y2":14,"v":1.70},{"x":50,"x2":60,"y":13,"y2":14,"v":1.70},{"x":60,"x2":70,"y":13,"y2":14,"v":1.55},{"x":70,"x2":80,"y":13,"y2":14,"v":1.20},
{"x":1,"x2":2,"y":14,"y2":15.15,"v":1.05},{"x":2,"x2":3.5,"y":14,"y2":15.15,"v":1.24},{"x":3.5,"x2":5,"y":14,"y2":15.15,"v":1.33},{"x":5,"x2":7.5,"y":14,"y2":15.15,"v":1.41},{"x":7.5,"x2":10,"y":14,"y2":15.15,"v":1.47},{"x":10,"x2":15,"y":14,"y2":15.15,"v":1.53},{"x":15,"x2":20,"y":14,"y2":15.15,"v":1.56},{"x":20,"x2":25,"y":14,"y2":15.15,"v":1.59},{"x":25,"x2":30,"y":14,"y2":15.15,"v":1.62},{"x":30,"x2":40,"y":14,"y2":15.15,"v":1.65},{"x":40,"x2":50,"y":14,"y2":15.15,"v":1.68},{"x":50,"x2":60,"y":14,"y2":15.15,"v":1.62},{"x":60,"x2":70,"y":14,"y2":15.15,"v":1.40},{"x":70,"x2":80,"y":14,"y2":15.15,"v":1.10}
],
"bcont": [
{"seg":"k1","x":64.16,"y":15.15},{"seg":"k1","x":70,"y":13.87},{"seg":"k1","x":75,"y":12.93},{"seg":"k1","x":80,"y":12.11},{"seg":"k1","x":85,"y":11.39},{"seg":"k1","x":90,"y":10.75},{"seg":"k1","x":95,"y":10.18},{"seg":"k1","x":100,"y":9.665},{"seg":"k1","x":100.3,"y":9.636},
{"seg":"k4","x":30.55,"y":15.15},{"seg":"k4","x":33,"y":13.99},{"seg":"k4","x":36,"y":12.79},{"seg":"k4","x":40,"y":11.48},{"seg":"k4","x":45,"y":10.18},{"seg":"k4","x":50,"y":9.137},{"seg":"k4","x":60,"y":7.588},{"seg":"k4","x":70,"y":6.488},{"seg":"k4","x":80,"y":5.667},{"seg":"k4","x":90,"y":5.03},{"seg":"k4","x":100,"y":4.522},{"seg":"k4","x":100.3,"y":4.508},
{"seg":"k7","x":1.721,"y":15.15},{"seg":"k7","x":1.8,"y":13.65},{"seg":"k7","x":2,"y":10.92},{"seg":"k7","x":2.5,"y":7.28},{"seg":"k7","x":3,"y":5.46},{"seg":"k7","x":4,"y":3.64},{"seg":"k7","x":5,"y":2.73},{"seg":"k7","x":7,"y":1.82},{"seg":"k7","x":10,"y":1.213},{"seg":"k7","x":15,"y":0.78},{"seg":"k7","x":20,"y":0.575},{"seg":"k7","x":30,"y":0.377},{"seg":"k7","x":50,"y":0.223},{"seg":"k7","x":70,"y":0.158},{"seg":"k7","x":100,"y":0.11},{"seg":"k7","x":100.3,"y":0.11}
],
"bbound": [
{"x":67,"y":15.15},{"x":70,"y":14.49},{"x":75,"y":13.51},{"x":80,"y":12.66},{"x":85,"y":11.90},{"x":90,"y":11.24},{"x":95,"y":10.64},{"x":100,"y":10.10},{"x":100.3,"y":10.07}
],
"cbar": [
{"v":0,"v2":0.05},{"v":0.05,"v2":0.1},{"v":0.1,"v2":0.15},{"v":0.15,"v2":0.2},{"v":0.2,"v2":0.25},{"v":0.25,"v2":0.3},{"v":0.3,"v2":0.35},{"v":0.35,"v2":0.4},{"v":0.4,"v2":0.45},{"v":0.45,"v2":0.5},{"v":0.5,"v2":0.55},{"v":0.55,"v2":0.6},{"v":0.6,"v2":0.65},{"v":0.65,"v2":0.7},{"v":0.7,"v2":0.75},{"v":0.75,"v2":0.8},{"v":0.8,"v2":0.85},{"v":0.85,"v2":0.9},{"v":0.9,"v2":0.95},{"v":0.95,"v2":1.0},
{"v":1.0,"v2":1.05},{"v":1.05,"v2":1.1},{"v":1.1,"v2":1.15},{"v":1.15,"v2":1.2},{"v":1.2,"v2":1.25},{"v":1.25,"v2":1.3},{"v":1.3,"v2":1.35},{"v":1.35,"v2":1.4},{"v":1.4,"v2":1.45},{"v":1.45,"v2":1.5},{"v":1.5,"v2":1.55},{"v":1.55,"v2":1.6},{"v":1.6,"v2":1.65},{"v":1.65,"v2":1.7},{"v":1.7,"v2":1.75},{"v":1.75,"v2":1.8},{"v":1.8,"v2":1.85},{"v":1.85,"v2":1.9},{"v":1.9,"v2":1.95},{"v":1.95,"v2":2.0},
{"v":2.0,"v2":2.05},{"v":2.05,"v2":2.1},{"v":2.1,"v2":2.15},{"v":2.15,"v2":2.2},{"v":2.2,"v2":2.25},{"v":2.25,"v2":2.3},{"v":2.3,"v2":2.35},{"v":2.35,"v2":2.4},{"v":2.4,"v2":2.45},{"v":2.45,"v2":2.5},{"v":2.5,"v2":2.55},{"v":2.55,"v2":2.6},{"v":2.6,"v2":2.65},{"v":2.65,"v2":2.7},{"v":2.7,"v2":2.75},{"v":2.75,"v2":2.8},{"v":2.8,"v2":2.85},{"v":2.85,"v2":2.9},{"v":2.9,"v2":2.95},{"v":2.95,"v2":3.0},
{"v":3.0,"v2":3.05},{"v":3.05,"v2":3.1},{"v":3.1,"v2":3.167}
],
"c": [
{"L1":"100","C2":2,"E":1.259},{"L1":"100","C2":2.042,"E":1.380},{"L1":"100","C2":2.138,"E":1.549},{"L1":"100","C2":2.239,"E":1.690},{"L1":"100","C2":2.382,"E":1.849},{"L1":"100","C2":2.512,"E":1.986},{"L1":"100","C2":2.818,"E":2.317},{"L1":"100","C2":3.162,"E":2.723},{"L1":"100","C2":3.981,"E":3.606},{"L1":"100","C2":6.31,"E":6.124},{"L1":"100","C2":10,"E":10.26},{"L1":"100","C2":17.78,"E":19.32},{"L1":"100","C2":31.62,"E":35.97},{"L1":"100","C2":56.23,"E":66.22},{"L1":"100","C2":100,"E":121.1},
{"L1":"10","C2":2,"E":0.1259},{"L1":"10","C2":2.042,"E":0.1380},{"L1":"10","C2":2.138,"E":0.1549},{"L1":"10","C2":2.239,"E":0.1690},{"L1":"10","C2":2.382,"E":0.1849},{"L1":"10","C2":2.512,"E":0.1986},{"L1":"10","C2":2.818,"E":0.2317},{"L1":"10","C2":3.162,"E":0.2723},{"L1":"10","C2":3.981,"E":0.3606},{"L1":"10","C2":6.31,"E":0.6124},{"L1":"10","C2":10,"E":1.026},{"L1":"10","C2":17.78,"E":1.932},{"L1":"10","C2":31.62,"E":3.597},{"L1":"10","C2":56.23,"E":6.622},{"L1":"10","C2":100,"E":12.11},
{"L1":"1","C2":2,"E":0.01259},{"L1":"1","C2":2.042,"E":0.01380},{"L1":"1","C2":2.138,"E":0.01549},{"L1":"1","C2":2.239,"E":0.01690},{"L1":"1","C2":2.382,"E":0.01849},{"L1":"1","C2":2.512,"E":0.01986},{"L1":"1","C2":2.818,"E":0.02317},{"L1":"1","C2":3.162,"E":0.02723},{"L1":"1","C2":3.981,"E":0.03606},{"L1":"1","C2":6.31,"E":0.06124},{"L1":"1","C2":10,"E":0.1026},{"L1":"1","C2":17.78,"E":0.1932},{"L1":"1","C2":31.62,"E":0.3597},{"L1":"1","C2":56.23,"E":0.6622},{"L1":"1","C2":100,"E":1.211}
],
"cdots": [{"C2":2,"E":1.259},{"C2":2,"E":0.1259},{"C2":2,"E":0.01259}],
"cap": [
{"line":1,"p":"b","t":"Figure 4."},
{"line":1,"p":"f","t":"(a), (b) Fluence-limited laser pulse energy for a BT-MPC displayed as a function of L₁,₂ considering R = 1 m with"},
{"line":2,"p":"r","t":"(b) showing a rescaled section of (a). (c) Fluence-limited pulse energy as a function of C₂ for different setup lengths L₁. In (c), we"},
{"line":3,"p":"r","t":"also display the corresponding peak power assuming compression to 50 fs. The black circles indicate the fluence-limited pule"},
{"line":4,"p":"r","t":"energy of a corresponding standard MPC. Parameters used: N = 15, k = 7 (c), Fₜₕ = 0.5 J cm⁻²."}
]
},
"vconcat": [
{"hconcat": [
 {"width": 293, "height": 319,
  "layer": [
   {"layer": [
    {"data": {"name": "a"}, "mark": {"type": "rect", "clip": true, "strokeWidth": 0.8},
     "encoding": {
      "x": {"field": "x", "type": "quantitative", "scale": {"domain": [0, 4], "nice": false, "zero": false}, "axis": {"values": [0,1,2,3,4], "format": "d", "title": "L₂ (m)", "titlePadding": 5, "zindex": 1}},
      "x2": {"field": "x2"},
      "y": {"field": "y", "type": "quantitative", "scale": {"domain": [0, 4], "nice": false, "zero": false}, "axis": {"values": [0,1,2,3,4], "format": "d", "title": "L₁ (m)", "titlePadding": 6, "zindex": 1}},
      "y2": {"field": "y2"},
      "color": {"field": "v", "type": "quantitative", "legend": null, "scale": {"type": "linear", "domain": [0,0.26,0.48,0.69,0.86,1.0,1.2,1.37,1.56,1.72,1.88,2.0,2.14,2.28,2.48,2.65,2.82,3.0,3.16], "range": ["#f2f2f8","#d8dbec","#b0b6d8","#7d89c2","#4e5ca8","#2c3c88","#1c2858","#101830","#050508","#200808","#4a1010","#701414","#9a1818","#c8161e","#d83428","#e45a22","#ee8a1e","#f4b42a","#f8e83a"], "clamp": true}},
      "stroke": {"field": "v", "type": "quantitative", "legend": null, "scale": {"type": "linear", "domain": [0,0.26,0.48,0.69,0.86,1.0,1.2,1.37,1.56,1.72,1.88,2.0,2.14,2.28,2.48,2.65,2.82,3.0,3.16], "range": ["#f2f2f8","#d8dbec","#b0b6d8","#7d89c2","#4e5ca8","#2c3c88","#1c2858","#101830","#050508","#200808","#4a1010","#701414","#9a1818","#c8161e","#d83428","#e45a22","#ee8a1e","#f4b42a","#f8e83a"], "clamp": true}}
     }},
    {"data": {"name": "abound"}, "mark": {"type": "area", "color": "white", "interpolate": "monotone", "clip": true},
     "encoding": {"x": {"field": "x", "type": "quantitative"}, "y": {"field": "y", "type": "quantitative"}, "y2": {"datum": 4}}},
    {"data": {"name": "abound"}, "mark": {"type": "line", "color": "#141428", "strokeWidth": 1.3, "interpolate": "monotone", "clip": true},
     "encoding": {"x": {"field": "x", "type": "quantitative"}, "y": {"field": "y", "type": "quantitative"}}},
    {"data": {"values": [{"y": 1.07}]}, "mark": {"type": "rule", "color": "#555555", "strokeDash": [4, 3], "strokeWidth": 1.2, "clip": false},
     "encoding": {"x": {"datum": 0}, "x2": {"datum": 4.19}, "y": {"field": "y", "type": "quantitative"}}},
    {"data": {"values": [{"y": 0.966}]}, "mark": {"type": "rule", "color": "#a6a6a6", "strokeDash": [4, 3], "strokeWidth": 1.2, "clip": false},
     "encoding": {"x": {"datum": 0}, "x2": {"datum": 4.19}, "y": {"field": "y", "type": "quantitative"}}},
    {"data": {"name": "acont"}, "mark": {"type": "line", "color": "#eeeef6", "strokeDash": [7, 5], "strokeWidth": 1.3, "interpolate": "monotone", "clip": true},
     "encoding": {"x": {"field": "x", "type": "quantitative"}, "y": {"field": "y", "type": "quantitative"}, "detail": {"field": "seg"}}},
    {"data": {"values": [{"x": 1.877, "y": 1.843, "t": "k = 1"}]}, "mark": {"type": "text", "color": "white", "fontSize": 15, "angle": 36},
     "encoding": {"x": {"field": "x", "type": "quantitative"}, "y": {"field": "y", "type": "quantitative"}, "text": {"field": "t"}}},
    {"data": {"values": [{"x": 1.581, "y": 1.539, "t": "k = 4"}]}, "mark": {"type": "text", "color": "white", "fontSize": 15, "angle": 47},
     "encoding": {"x": {"field": "x", "type": "quantitative"}, "y": {"field": "y", "type": "quantitative"}, "text": {"field": "t"}}},
    {"data": {"values": [{"x": 1.308, "y": 1.266, "t": "k = 7"}]}, "mark": {"type": "text", "color": "white", "fontSize": 15, "angle": 43},
     "encoding": {"x": {"field": "x", "type": "quantitative"}, "y": {"field": "y", "type": "quantitative"}, "text": {"field": "t"}}},
    {"data": {"values": [{"x": 0.27, "y": 3.73, "t": "(a)"}]}, "mark": {"type": "text", "color": "black", "fontSize": 19},
     "encoding": {"x": {"field": "x", "type": "quantitative"}, "y": {"field": "y", "type": "quantitative"}, "text": {"field": "t"}}}
   ]},
   {"data": {"values": [{"x": 0, "y": 0}]}, "mark": {"type": "point", "opacity": 0},
    "encoding": {
     "x": {"field": "x", "type": "quantitative", "scale": {"domain": [0, 4], "nice": false, "zero": false}, "axis": {"orient": "top", "values": [1,2,3], "labels": false, "title": null, "zindex": 1}},
     "y": {"field": "y", "type": "quantitative", "scale": {"domain": [0, 4], "nice": false, "zero": false}, "axis": {"orient": "right", "values": [1,2,3], "labels": false, "title": null, "zindex": 1}}}}
  ],
  "resolve": {"axis": {"x": "independent", "y": "independent"}}
 },
 {"hconcat": [
  {"vconcat": [
   {"width": 10, "height": 1, "data": {"values": [{"a": 1}]}, "mark": {"type": "rect", "opacity": 0}, "encoding": {}},
   {"vconcat": [
    {"width": 227, "height": 20,
     "layer": [
      {"data": {"name": "cbar"}, "mark": {"type": "rect", "clip": false, "strokeWidth": 0.6},
       "encoding": {
        "x": {"field": "v", "type": "quantitative", "scale": {"domain": [0.268, 3.167], "nice": false, "zero": false},
              "axis": {"orient": "top", "values": [1,2,3], "labelExpr": "datum.value == 1 ? '10 mJ' : datum.value == 2 ? '100 mJ' : '1 J'", "tickSize": -3.5, "labelPadding": 12.5, "labelFontSize": 15, "domain": false, "title": null, "zindex": 1}},
        "x2": {"field": "v2"},
        "y": {"datum": 0.45, "type": "quantitative", "scale": {"domain": [0, 1], "nice": false}, "axis": null},
        "y2": {"datum": 1},
        "color": {"field": "v", "type": "quantitative", "legend": null, "scale": {"type": "linear", "domain": [0,0.26,0.48,0.69,0.86,1.0,1.2,1.37,1.56,1.72,1.88,2.0,2.14,2.28,2.48,2.65,2.82,3.0,3.16], "range": ["#f2f2f8","#d8dbec","#b0b6d8","#7d89c2","#4e5ca8","#2c3c88","#1c2858","#101830","#050508","#200808","#4a1010","#701414","#9a1818","#c8161e","#d83428","#e45a22","#ee8a1e","#f4b42a","#f8e83a"], "clamp": true}},
        "stroke": {"field": "v", "type": "quantitative", "legend": null, "scale": {"type": "linear", "domain": [0,0.26,0.48,0.69,0.86,1.0,1.2,1.37,1.56,1.72,1.88,2.0,2.14,2.28,2.48,2.65,2.82,3.0,3.16], "range": ["#f2f2f8","#d8dbec","#b0b6d8","#7d89c2","#4e5ca8","#2c3c88","#1c2858","#101830","#050508","#200808","#4a1010","#701414","#9a1818","#c8161e","#d83428","#e45a22","#ee8a1e","#f4b42a","#f8e83a"], "clamp": true}}
       }},
      {"data": {"values": [{"v": 0, "v2": 3.167}]}, "mark": {"type": "rect", "fill": "transparent", "stroke": "black", "strokeWidth": 1.2, "clip": false},
       "encoding": {"x": {"field": "v", "type": "quantitative"}, "x2": {"field": "v2"}, "y": {"datum": 0}, "y2": {"datum": 1}}},
      {"data": {"values": [{"v": 0.04, "t": "1 mJ"}]}, "mark": {"type": "text", "align": "center", "baseline": "middle", "fontSize": 15, "clip": false},
       "encoding": {"x": {"field": "v", "type": "quantitative"}, "y": {"datum": 1.75}, "text": {"field": "t"}}},
      {"data": {"values": [{"v": 3.25, "t": "E"}]}, "mark": {"type": "text", "align": "left", "baseline": "middle", "fontSize": 19, "clip": false},
       "encoding": {"x": {"field": "v", "type": "quantitative"}, "y": {"datum": 0.72}, "text": {"field": "t"}}},
      {"data": {"values": [{"v": 3.46, "t": "max"}]}, "mark": {"type": "text", "align": "left", "baseline": "middle", "fontSize": 12, "clip": false},
       "encoding": {"x": {"field": "v", "type": "quantitative"}, "y": {"datum": 0.42}, "text": {"field": "t"}}}
     ]},
    {"width": 288, "height": 257,
     "layer": [
      {"layer": [
       {"data": {"values": [{"x": -20, "y": 4.485, "y2": 4.98}, {"x": 0, "y": 0, "y2": 15.15}]}, "mark": {"type": "area", "color": "#d2d2d2", "clip": false},
        "encoding": {
         "x": {"field": "x", "type": "quantitative", "scale": {"domain": [0, 100.3], "nice": false, "zero": false}, "axis": {"values": [0, 50, 100], "title": "L₂ (m)", "titlePadding": 5, "zindex": 1}},
         "y": {"field": "y", "type": "quantitative", "scale": {"domain": [-0.25, 15.15], "nice": false, "zero": false}, "axis": {"values": [0, 5, 10, 15], "title": "L₁-1000 (mm)", "titlePadding": 6, "zindex": 1}},
         "y2": {"field": "y2"}}},
       {"data": {"name": "b"}, "mark": {"type": "rect", "clip": true, "strokeWidth": 0.8},
        "encoding": {
         "x": {"field": "x", "type": "quantitative"}, "x2": {"field": "x2"},
         "y": {"field": "y", "type": "quantitative"}, "y2": {"field": "y2"},
         "color": {"field": "v", "type": "quantitative", "legend": null, "scale": {"type": "linear", "domain": [0,0.26,0.48,0.69,0.86,1.0,1.2,1.37,1.56,1.72,1.88,2.0,2.14,2.28,2.48,2.65,2.82,3.0,3.16], "range": ["#f2f2f8","#d8dbec","#b0b6d8","#7d89c2","#4e5ca8","#2c3c88","#1c2858","#101830","#050508","#200808","#4a1010","#701414","#9a1818","#c8161e","#d83428","#e45a22","#ee8a1e","#f4b42a","#f8e83a"], "clamp": true}},
         "stroke": {"field": "v", "type": "quantitative", "legend": null, "scale": {"type": "linear", "domain": [0,0.26,0.48,0.69,0.86,1.0,1.2,1.37,1.56,1.72,1.88,2.0,2.14,2.28,2.48,2.65,2.82,3.0,3.16], "range": ["#f2f2f8","#d8dbec","#b0b6d8","#7d89c2","#4e5ca8","#2c3c88","#1c2858","#101830","#050508","#200808","#4a1010","#701414","#9a1818","#c8161e","#d83428","#e45a22","#ee8a1e","#f4b42a","#f8e83a"], "clamp": true}}
        }},
       {"data": {"name": "bbound"}, "mark": {"type": "line", "color": "#34449a", "strokeWidth": 5, "interpolate": "monotone", "clip": true},
        "encoding": {"x": {"field": "x", "type": "quantitative"}, "y": {"field": "y", "type": "quantitative"}}},
       {"data": {"name": "bbound"}, "mark": {"type": "area", "color": "white", "interpolate": "monotone", "clip": true},
        "encoding": {"x": {"field": "x", "type": "quantitative"}, "y": {"field": "y", "type": "quantitative"}, "y2": {"datum": 15.15}}},
       {"data": {"name": "bcont"}, "mark": {"type": "line", "color": "#eeeef6", "strokeDash": [6, 5], "strokeWidth": 1.3, "interpolate": "monotone", "clip": true},
        "encoding": {"x": {"field": "x", "type": "quantitative"}, "y": {"field": "y", "type": "quantitative"}, "detail": {"field": "seg"}}},
       {"data": {"values": [{"x": 78.2, "y": 11.45, "t": "k = 1"}]}, "mark": {"type": "text", "color": "white", "fontSize": 16, "angle": 43},
        "encoding": {"x": {"field": "x", "type": "quantitative"}, "y": {"field": "y", "type": "quantitative"}, "text": {"field": "t"}}},
       {"data": {"values": [{"x": 50.6, "y": 7.95, "t": "k = 4"}]}, "mark": {"type": "text", "color": "white", "fontSize": 16, "angle": 45},
        "encoding": {"x": {"field": "x", "type": "quantitative"}, "y": {"field": "y", "type": "quantitative"}, "text": {"field": "t"}}},
       {"data": {"values": [{"x": 15.4, "y": 2.5, "t": "k = 7"}]}, "mark": {"type": "text", "color": "white", "fontSize": 16, "angle": 48},
        "encoding": {"x": {"field": "x", "type": "quantitative"}, "y": {"field": "y", "type": "quantitative"}, "text": {"field": "t"}}},
       {"data": {"values": [{"x": 9.65, "y": 13.8, "t": "(b)"}]}, "mark": {"type": "text", "color": "white", "fontSize": 19},
        "encoding": {"x": {"field": "x", "type": "quantitative"}, "y": {"field": "y", "type": "quantitative"}, "text": {"field": "t"}}}
      ]},
      {"data": {"values": [{"x": 0, "y": 0}]}, "mark": {"type": "point", "opacity": 0},
       "encoding": {
        "x": {"field": "x", "type": "quantitative", "scale": {"domain": [0, 100.3], "nice": false, "zero": false}, "axis": {"orient": "top", "ticks": false, "labels": false, "title": null, "zindex": 1}},
        "y": {"field": "y", "type": "quantitative", "scale": {"domain": [-0.25, 15.15], "nice": false, "zero": false}, "axis": {"orient": "right", "ticks": false, "labels": false, "title": null, "zindex": 1}}}}
     ],
     "resolve": {"axis": {"x": "independent", "y": "independent"}}
    }
   ], "spacing": 9}
  ], "spacing": 3},
  {"vconcat": [
   {"width": 10, "height": 1, "data": {"values": [{"a": 1}]}, "mark": {"type": "rect", "opacity": 0}, "encoding": {}},
   {"width": 281, "height": 258,
    "layer": [
     {"layer": [
      {"data": {"name": "c"}, "mark": {"type": "line", "color": "#3535d5", "strokeWidth": 2, "interpolate": "monotone", "clip": true},
       "encoding": {
        "x": {"field": "C2", "type": "quantitative", "scale": {"type": "log", "domain": [1, 100], "nice": false},
              "axis": {"values": [1,2,3,4,5,6,7,8,9,10,20,30,40,50,60,70,80,90,100], "labelExpr": "datum.value == 1 ? '1' : datum.value == 10 ? '10' : datum.value == 100 ? '100' : ''", "title": "C₂ = L₂/R", "titlePadding": 5, "tickSize": -5, "labelPadding": 12, "zindex": 1}},
        "y": {"field": "E", "type": "quantitative", "scale": {"type": "log", "domain": [0.01, 194], "nice": false},
              "axis": {"values": [0.01, 0.1, 1, 10, 100], "labelExpr": "datum.value == 0.01 ? '10 mJ' : datum.value == 1 ? '1 J' : datum.value == 100 ? '100 J' : ''", "title": "Pulse energy Eₘₐₓ", "titleX": -45, "titleY": 129, "titleBaseline": "middle", "titleAngle": -90, "tickSize": -5, "labelPadding": 11, "zindex": 1}},
        "detail": {"field": "L1"}}},
      {"data": {"name": "cdots"}, "mark": {"type": "point", "filled": true, "color": "black", "size": 60, "opacity": 1},
       "encoding": {"x": {"field": "C2", "type": "quantitative"}, "y": {"field": "E", "type": "quantitative"}}},
      {"data": {"values": [{"C2": 2, "E": 423, "E2": 3.6}]}, "mark": {"type": "rule", "color": "black", "strokeWidth": 2, "clip": false},
       "encoding": {"x": {"field": "C2", "type": "quantitative"}, "y": {"field": "E", "type": "quantitative"}, "y2": {"field": "E2"}}},
      {"data": {"values": [{"C2": 2, "E": 3.62}]}, "mark": {"type": "point", "shape": "triangle-down", "filled": true, "color": "black", "size": 170, "opacity": 1},
       "encoding": {"x": {"field": "C2", "type": "quantitative"}, "y": {"field": "E", "type": "quantitative"}}},
      {"data": {"values": [{"C2": 1.53, "E": 782, "t": "Standard MPC"}]}, "mark": {"type": "text", "color": "black", "fontSize": 19, "clip": false},
       "encoding": {"x": {"field": "C2", "type": "quantitative"}, "y": {"field": "E", "type": "quantitative"}, "text": {"field": "t"}}},
      {"data": {"values": [{"C2": 14.5, "E": 782, "t": "BT-MPC"}]}, "mark": {"type": "text", "color": "#3535d5", "fontSize": 19, "clip": false},
       "encoding": {"x": {"field": "C2", "type": "quantitative"}, "y": {"field": "E", "type": "quantitative"}, "text": {"field": "t"}}},
      {"data": {"values": [{"C2": 8.38, "E": 17.3, "t": "L₁ = 100 m"}]}, "mark": {"type": "text", "color": "#3535d5", "fontSize": 19, "angle": -27},
       "encoding": {"x": {"field": "C2", "type": "quantitative"}, "y": {"field": "E", "type": "quantitative"}, "text": {"field": "t"}}},
      {"data": {"values": [{"C2": 9.87, "E": 2.02, "t": "L₁ = 10 m"}]}, "mark": {"type": "text", "color": "#3535d5", "fontSize": 19, "angle": -27.5},
       "encoding": {"x": {"field": "C2", "type": "quantitative"}, "y": {"field": "E", "type": "quantitative"}, "text": {"field": "t"}}},
      {"data": {"values": [{"C2": 12.1, "E": 0.248, "t": "L₁ = 1 m"}]}, "mark": {"type": "text", "color": "#3535d5", "fontSize": 19, "angle": -29},
       "encoding": {"x": {"field": "C2", "type": "quantitative"}, "y": {"field": "E", "type": "quantitative"}, "text": {"field": "t"}}},
      {"data": {"values": [{"C2": 1.46, "E": 66, "t": "(c)"}]}, "mark": {"type": "text", "color": "black", "fontSize": 19},
       "encoding": {"x": {"field": "C2", "type": "quantitative"}, "y": {"field": "E", "type": "quantitative"}, "text": {"field": "t"}}}
     ]},
     {"data": {"values": [{"C2": 1, "P": 1}]}, "mark": {"type": "point", "opacity": 0},
      "encoding": {
       "x": {"field": "C2", "type": "quantitative", "axis": {"orient": "top", "values": [2,3,4,5,6,7,8,9,20,30,40,50,60,70,80,90], "labels": false, "title": null, "tickSize": -4, "zindex": 1}},
       "y": {"field": "P", "type": "quantitative", "scale": {"type": "log", "domain": [0.385, 3200], "nice": false},
             "axis": {"orient": "right", "values": [1, 7.73, 129.4, 1000], "labelExpr": "datum.value == 1 ? '1 TW' : datum.value == 1000 ? '1 PW' : ''", "title": "Peak power", "titleAngle": -90, "titleX": 37, "titleY": 107, "titleBaseline": "middle", "tickSize": -6, "labelPadding": 12, "zindex": 1}}}}
    ],
    "resolve": {"scale": {"y": "independent"}, "axis": {"x": "independent", "y": "independent"}}
   }
  ], "spacing": 17}
 ], "spacing": 10}
], "spacing": 0},
{"width": 1080, "height": 80,
 "data": {"name": "cap"},
 "encoding": {
  "x": {"datum": 0, "type": "quantitative", "scale": {"domain": [0, 1]}, "axis": null},
  "y": {"field": "line", "type": "quantitative", "scale": {"domain": [0.5, 4.5], "reverse": true}, "axis": null},
  "text": {"field": "t"}
 },
 "layer": [
  {"transform": [{"filter": "datum.p == 'b'"}], "mark": {"type": "text", "align": "left", "baseline": "middle", "font": "DejaVu Serif", "fontSize": 15.5, "fontWeight": "bold", "dx": -30}},
  {"transform": [{"filter": "datum.p == 'f'"}], "mark": {"type": "text", "align": "left", "baseline": "middle", "font": "DejaVu Serif", "fontSize": 15.5, "dx": 57}},
  {"transform": [{"filter": "datum.p == 'r'"}], "mark": {"type": "text", "align": "left", "baseline": "middle", "font": "DejaVu Serif", "fontSize": 15.5, "dx": -30}}
 ]
}
],
"spacing": 25
}
